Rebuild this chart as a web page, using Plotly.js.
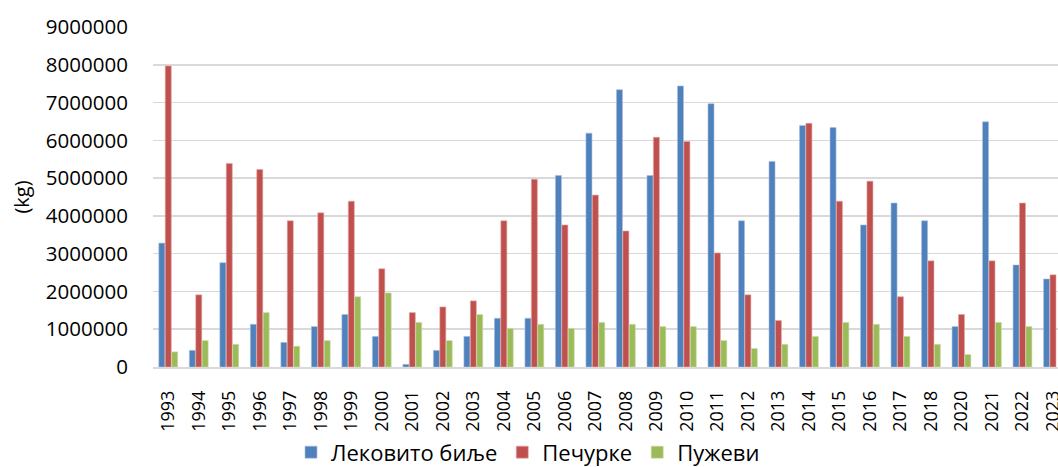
<!DOCTYPE html>
<html>
<head>
<meta charset="utf-8">
<script src="https://cdn.plot.ly/plotly-3.0.1.min.js"></script>
<style>
html,body{margin:0;padding:0;overflow:hidden;background:#fff;}
#chart{width:1058px;height:467px;}
</style>
</head>
<body>
<div id="chart"></div>
<script>
const years = ['1993','1994','1995','1996','1997','1998','1999','2000','2001','2002','2003','2004','2005','2006','2007','2008','2009','2010','2011','2012','2013','2014','2015','2016','2017','2018','2020','2021','2022','2023'];

const seriesNames = ['Лековито биље', 'Печурке', 'Пужеви'];

const lekovitoBilje = [3280000, 440000, 2760000, 1130000, 650000, 1070000, 1390000, 810000, 70000, 440000, 810000, 1290000, 1290000, 5070000, 6190000, 7340000, 5070000, 7440000, 6970000, 3870000, 5440000, 6390000, 6340000, 3760000, 4340000, 3870000, 1070000, 6490000, 2700000, 2330000];

const pecurke = [7970000, 1910000, 5390000, 5230000, 3870000, 4080000, 4390000, 2600000, 1440000, 1590000, 1750000, 3870000, 4970000, 3760000, 4550000, 3600000, 6080000, 5970000, 3020000, 1910000, 1230000, 6450000, 4390000, 4920000, 1860000, 2810000, 1390000, 2810000, 4340000, 2440000];

const puzevi = [400000, 700000, 600000, 1440000, 550000, 700000, 1860000, 1960000, 1180000, 700000, 1390000, 1020000, 1130000, 1020000, 1180000, 1130000, 1070000, 1070000, 700000, 490000, 600000, 810000, 1180000, 1130000, 810000, 600000, 330000, 1180000, 1070000, null];

const yTicks = [0, 1000000, 2000000, 3000000, 4000000, 5000000, 6000000, 7000000, 8000000, 9000000];

const colors = ['#4f81bd', '#c0504d', '#9bbb59'];
const edge = ['#a7c0de', '#e0a8a6', '#cddcac'];
const values = [lekovitoBilje, pecurke, puzevi];

const FONT = 'Open Sans, sans-serif';

const data = values.map((v, i) => ({
  type: 'bar',
  name: seriesNames[i],
  x: years,
  y: v,
  marker: {color: colors[i], line: {color: edge[i], width: 0.6}},
  hoverinfo: 'x+y+name'
}));

const layout = {
  width: 1058,
  height: 467,
  margin: {l: 153, r: 0, t: 27, b: 100, pad: 0, autoexpand: false},
  paper_bgcolor: '#ffffff',
  plot_bgcolor: '#ffffff',
  font: {family: FONT, size: 20, color: '#000000'},
  barmode: 'group',
  bargap: 0.37,
  bargroupgap: 0.06,
  showlegend: true,
  legend: {
    orientation: 'h',
    x: 0.1525,
    xanchor: 'left',
    y: -0.251,
    yanchor: 'middle',
    font: {family: FONT, size: 22, color: '#000000'},
    itemwidth: 30,
    traceorder: 'normal'
  },
  xaxis: {
    type: 'category',
    range: [-0.5, 29.164],
    tickangle: -90,
    tickfont: {family: FONT, size: 18, color: '#000000'},
    showgrid: false,
    showline: true,
    linecolor: '#d9d9d9',
    linewidth: 1.5,
    ticks: 'outside',
    ticklen: 15,
    tickcolor: 'rgba(0,0,0,0)',
    automargin: false,
    fixedrange: true
  },
  yaxis: {
    range: [0, 9000000],
    tickvals: yTicks,
    tickformat: 'd',
    tickfont: {family: FONT, size: 20.5, color: '#000000'},
    showgrid: true,
    gridcolor: '#d9d9d9',
    gridwidth: 1.5,
    zeroline: false,
    showline: false,
    ticks: 'outside',
    ticklen: 20,
    tickcolor: 'rgba(0,0,0,0)',
    automargin: false,
    title: {text: '(kg)', font: {family: FONT, size: 20, color: '#000000'}, standoff: 10},
    fixedrange: true
  }
};

Plotly.newPlot('chart', data, layout, {displayModeBar: false, staticPlot: true});
</script>
</body>
</html>
